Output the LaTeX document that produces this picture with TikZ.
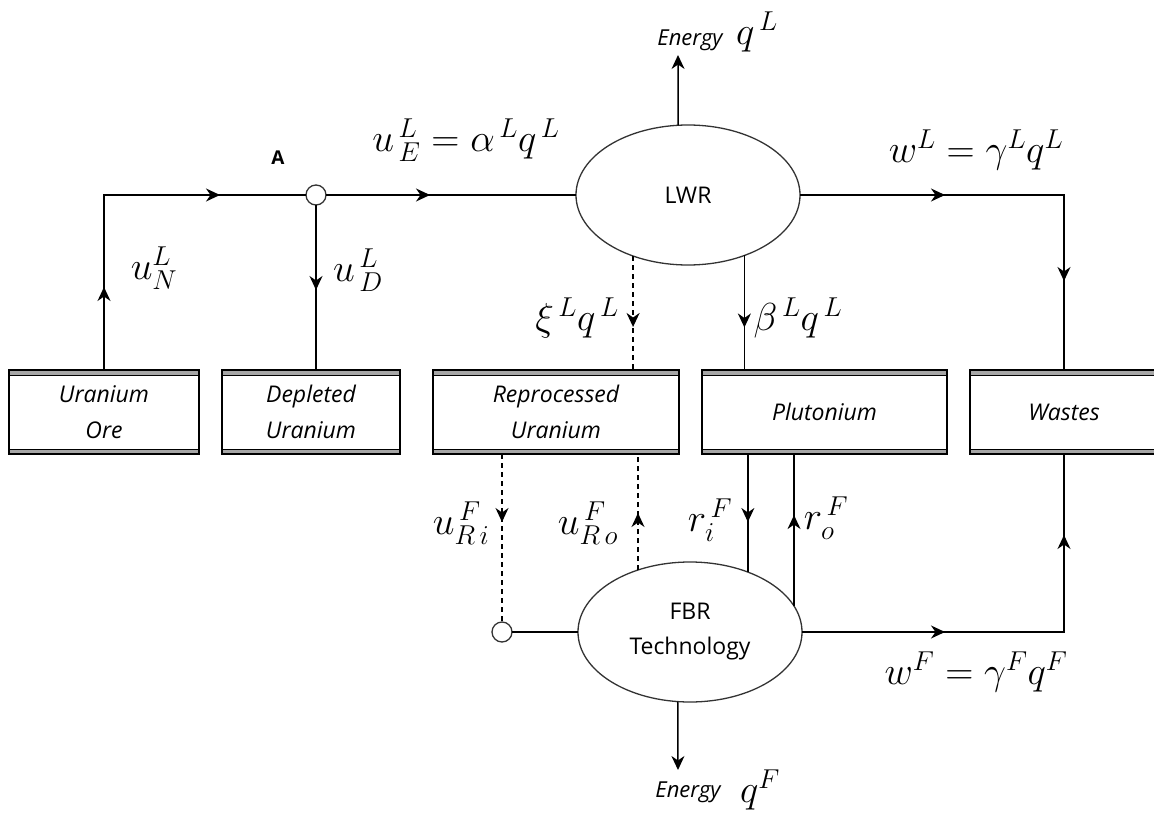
\RequirePackage{fix-cm}
\documentclass[tikz,border=0pt]{standalone}
\usepackage{fontspec}
\setsansfont{Open Sans}
\usetikzlibrary{arrows.meta,decorations.markings,shapes.geometric}
\tikzset{
  mytip/.tip={Stealth[length=14pt,width=13pt,inset=4.5pt]},
  conn/.style={line width=1.5pt},
  dashline/.style={line width=1.5pt, dash pattern=on 5pt off 4pt},
  amark/.style={postaction={decorate,decoration={markings,mark=at position #1 with {\arrow{mytip}}}}},
  ubox/.style={draw, line width=1.6pt, rectangle, minimum height=84pt, minimum width=#1,
    inner sep=0pt, outer sep=0pt, align=center,
    font=\sffamily\itshape\fontsize{23}{36}\selectfont,
    path picture={
      \fill[black!35] (path picture bounding box.north west) rectangle ([yshift=-5pt]path picture bounding box.north east);
      \draw[line width=1pt] ([yshift=-5pt]path picture bounding box.north west) -- ([yshift=-5pt]path picture bounding box.north east);
      \fill[black!35] (path picture bounding box.south west) rectangle ([yshift=5pt]path picture bounding box.south east);
      \draw[line width=1pt] ([yshift=5pt]path picture bounding box.south west) -- ([yshift=5pt]path picture bounding box.south east);
    }},
  reactor/.style={draw=black!80, line width=1.3pt, ellipse, minimum width=224pt, minimum height=140pt,
    inner sep=0pt, outer sep=0pt, align=center, font=\sffamily\fontsize{23}{35}\selectfont},
  junction/.style={draw=black!80, line width=1.3pt, circle, fill=white, minimum size=20pt, inner sep=0pt, outer sep=0pt},
  mlabel/.style={font=\fontsize{39}{40}\selectfont, inner sep=0pt},
  elabel/.style={font=\sffamily\itshape\fontsize{22}{26}\selectfont, inner sep=0pt},
}
\begin{document}
\begin{tikzpicture}[x=1pt,y=-1pt]
\useasboundingbox (0,0) rectangle (1154,813);
\clip (0,0) rectangle (1154,813);
\fill[white] (0,0) rectangle (1154,813);

% boxes
\node[ubox=190pt] (ore) at (104,412) {Uranium\\Ore};
\node[ubox=178pt] (dep) at (311,412) {Depleted\\Uranium};
\node[ubox=246pt] (rep) at (556,412) {Reprocessed\\Uranium};
\node[ubox=245pt] (plu) at (824.5,412) {Plutonium};
\node[ubox=188pt] (was) at (1064,412) {Wastes};

% reactors
\node[reactor] (lwr) at (688,195) {LWR};
\node[reactor] (fbr) at (690,632) {FBR\\Technology};

% junctions
\node[junction] (A) at (316,195) {};
\node[junction] (R) at (502,632) {};

% free ends and corners
\coordinate (c1) at (104,195);
\coordinate (c2) at (1064,195);
\coordinate (c3) at (1064,632);
\coordinate (eL) at (678,55);
\coordinate (eF) at (678,770);

% connectors
\draw[conn, amark=83pt, amark=291pt] (ore.north) -- (c1) -- (A.west);
\draw[conn, amark=104pt] (A.east) -- (lwr.west);
\draw[conn, amark=85pt] (A.south) -- (A.south |- dep.north);
\draw[conn, -mytip] (lwr.98.2) -- (eL);
\draw[conn, amark=145pt, amark=350pt] (lwr.east) -- (c2) -- (c2 |- was.north);
\draw[dashline, amark=71pt] (lwr.228.6) -- (lwr.228.6 |- rep.north);
\draw[conn, amark=72pt] (lwr.313.4) -- (lwr.313.4 |- plu.north);
\draw[dashline, amark=68pt] (rep.south -| R) -- (R.north);
\draw[dashline, amark=57pt] (fbr.130.7) -- (fbr.130.7 |- rep.south);
\draw[conn, amark=68pt] (plu.south -| fbr.46.6) -- (fbr.46.6);
\draw[conn, amark=91pt] (fbr.14.9) -- (fbr.14.9 |- plu.south);
\draw[conn] (R.east) -- (fbr.west);
\draw[conn, amark=143pt, amark=359pt] (fbr.east) -- (c3) -- (c3 |- was.south);
\draw[conn, -mytip] (fbr.260.2) -- (eF);

% labels
\node[font=\sffamily\bfseries\fontsize{19}{22}\selectfont, inner sep=0pt] (lA) at (278,158) {A};
\node[mlabel] (lN) at (154,268) {$u^{L}_{N}$};
\node[mlabel] (lD) at (358,270) {$u^{\,L}_{\,D}$};
\node[mlabel] (lE) at (466,140) {$u^{\,L}_{\,E}=\alpha^{\,L}q^{\,L}$};
\node[elabel] (enL) at (690,40) {Energy};
\node[mlabel] (qL) at (757,32) {$q^{\,L}$};
\node[mlabel] (wL) at (976,150) {$w^{L}=\gamma^{L}q^{L}$};
\node[mlabel] (xi) at (577,318) {$\xi^{\,L}q^{\,L}$};
\node[mlabel] (be) at (798,318) {$\beta^{\,L}q^{\,L}$};
\node[mlabel] (uRi) at (461,523) {$u^{\,F}_{R\,i}$};
\node[mlabel] (uRo) at (588,523) {$u^{\,F}_{R\,o}$};
\node[mlabel] (ri) at (710,520) {$r^{\,F}_{i}$};
\node[mlabel] (ro) at (826,518) {$r^{\,F}_{o}$};
\node[mlabel] (wF) at (976,672) {$w^{F}=\gamma^{F}q^{F}$};
\node[elabel] (enF) at (688,792) {Energy};
\node[mlabel] (qF) at (760,790) {$q^{F}$};
\end{tikzpicture}
\end{document}
